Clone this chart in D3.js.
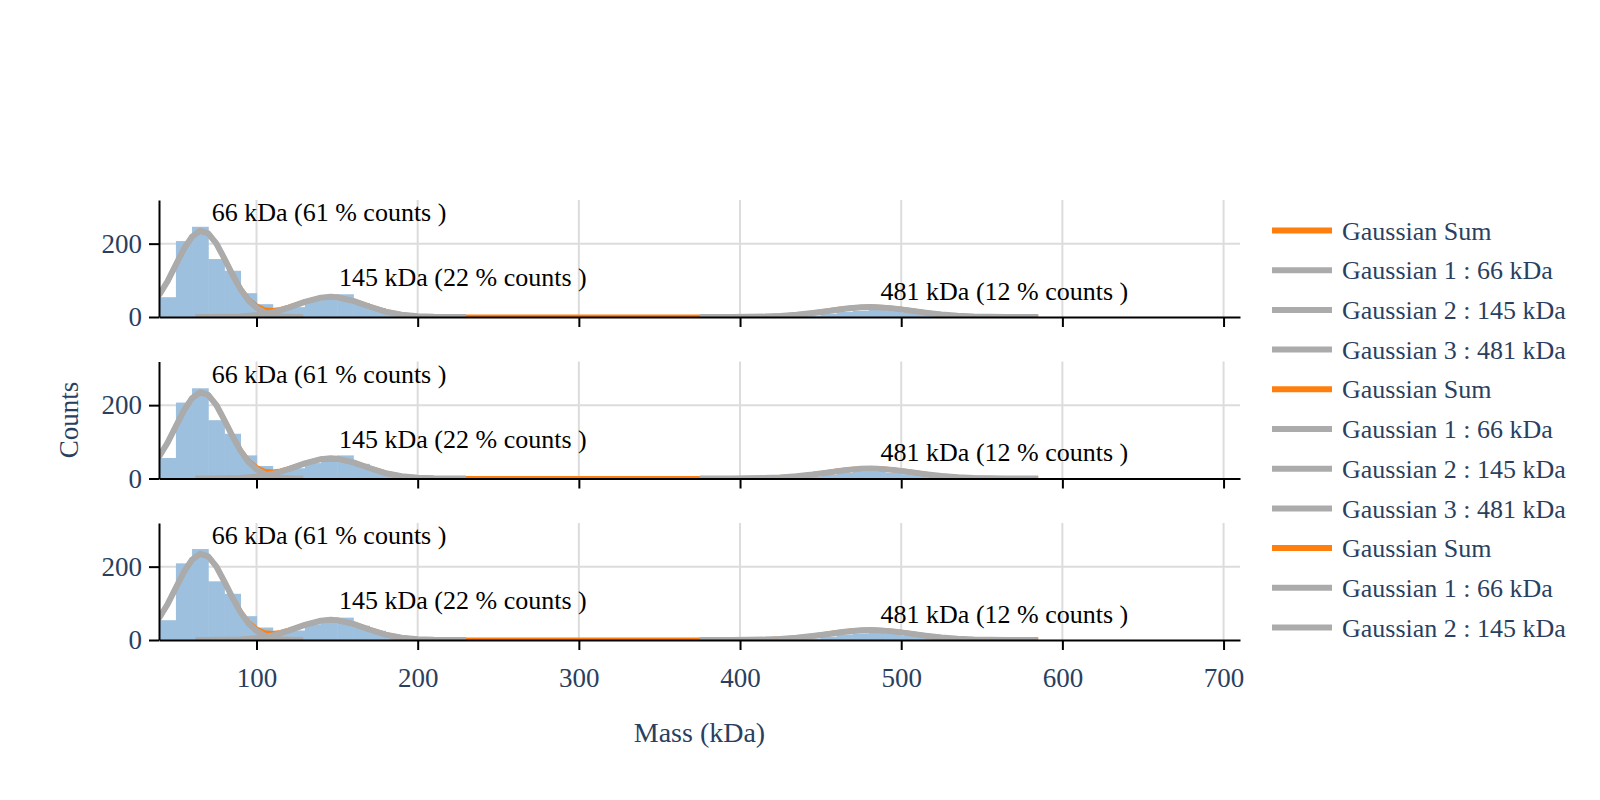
<!DOCTYPE html>
<html><head><meta charset="utf-8">
<script src="https://cdn.jsdelivr.net/npm/d3@7"></script>
<style>body{margin:0;background:#fff} svg{display:block}</style>
</head><body>
<svg id="chart" width="1600" height="800"></svg>
<script>
// ---------- DATA ----------
const xTicks = [100, 200, 300, 400, 500, 600, 700];
const yTicks = [0, 200];
const binWidth = 10;
const binLeft = [40,50,60,70,80,90,100,110,120,130,140,150,160,170,180,190,200,210,220,230,
  240,250,260,270,280,290,300,310,320,330,340,350,360,370,380,390,400,410,420,430,
  440,450,460,470,480,490,500,510,520,530,540,550,560,570,580,
  590,600,610,620,630,640,650,660,670,680];
const counts1 = [54,207,246,158,126,65,35,24,27,44,58,62,38,24,9,5,3,2,1,1,
  0,0,0,0,0,0,0,0,0,0,0,0,0,0,0,0,0,1,1,2,
  4,9,14,17,19,17,13,8,5,3,2,1,1,0,0,
  0,0,0,0,0,0,0,0,0,0];
const counts2 = [56,207,246,159,122,63,34,23,28,42,60,63,40,22,10,5,3,1,1,1,
  0,0,0,0,0,0,0,0,0,0,0,0,0,0,0,0,0,1,1,2,
  5,10,15,18,18,16,12,9,5,3,2,1,1,0,0,
  0,0,1,0,1,0,0,0,1,0];
const counts3 = [54,209,248,160,126,65,34,24,26,43,57,61,39,25,9,4,3,2,1,0,
  0,0,0,0,0,0,0,0,0,0,0,0,0,0,0,0,0,1,1,2,
  4,9,15,18,19,17,12,8,5,3,2,1,0,0,0,
  0,0,0,0,0,0,0,0,0,0];

const sumX = [35,40,45,50,55,60,65,70,75,80,85,90,95,100,105,110,115,120,
  130,140,150,160,170,180,190,200,210,220,230,240,250,260,270,280,290,300,310,320,330,340,350,360,370,380,
  390,400,410,420,430,440,450,460,470,480,490,500,510,520,530,540,550,560,570,580,585];
const sumY = [36,63,99,143,186,219,235,228,201,160,117,78,48,30,20,18,20.5,27,
  41,53,54,44,29,15,6,2,0.5,0.1,0,0,0,0,0,0,0,0,0,0,0,0,0,0,0,0,
  0.06,0.22,0.67,1.8,4.1,8.1,13.8,20.2,25,27,25.6,21,15,9.1,4.7,2.1,0.8,0.27,0.08,0,0];
const g1X = [35,40,45,50,55,60,65,70,75,80,85,90,95,100,105,110,115,120,125,129];
const g1Y = [36,63,99,143,186,219,235,228,201,160,116,76,45,25,12,5,2,1,0.3,0.1];
const g2X = [62,70,80,90,100,105,110,115,120,130,140,146,150,160,170,180,190,200,210,220,230];
const g2Y = [0,0.1,0.4,1.6,5.0,8.2,12.7,18.5,25.6,41.1,52.8,55,54,44,28.6,14.8,6.1,2.0,0.5,0.1,0];
const g3X = [375,385,395,405,415,425,435,445,455,465,475,481,485,495,505,515,525,535,545,555,565,575,585];
const g3Y = [0,0.03,0.12,0.39,1.1,2.8,5.9,10.7,16.5,22.5,26.5,27,26.8,23.5,18,11.9,6.7,3.2,1.35,0.5,0.15,0.04,0];

const labelText = ["66 kDa (61 % counts )", "145 kDa (22 % counts )", "481 kDa (12 % counts )"];
const labelX = [66, 145, 481];
const labelY = [286, 108, 72];

const legendNames = ["Gaussian Sum", "Gaussian 1 : 66 kDa", "Gaussian 2 : 145 kDa", "Gaussian 3 : 481 kDa"];
const panelCounts = [counts1, counts2, counts3];

// ---------- LAYOUT ----------
const FONT = '"Liberation Serif", "Times New Roman", serif';
const TXT = '#2a3f5f';
const left = 159, right = 1240;
const panelTop = [200, 361.5, 523], ph = 117;
const svg = d3.select('#chart');

const x = d3.scaleLinear().domain([39.5, 710.2]).range([left, right]);

const defs = svg.append('defs');

panelCounts.forEach((counts, i) => {
  const top = panelTop[i];
  const y = d3.scaleLinear().domain([0, 319]).range([top + ph, top]);
  const g = svg.append('g');

  defs.append('clipPath').attr('id', 'clip' + i)
    .append('rect').attr('x', left).attr('y', top).attr('width', right - left).attr('height', ph);

  // grid
  g.selectAll('.vg').data(xTicks).join('line')
    .attr('x1', d => x(d)).attr('x2', d => x(d)).attr('y1', top).attr('y2', top + ph)
    .attr('stroke', '#dcdcdc').attr('stroke-width', 2);
  g.selectAll('.hg').data(yTicks.filter(d => d > 0)).join('line')
    .attr('x1', left).attr('x2', right).attr('y1', d => y(d)).attr('y2', d => y(d))
    .attr('stroke', '#dcdcdc').attr('stroke-width', 2);

  const plot = g.append('g').attr('clip-path', `url(#clip${i})`);
  // histogram
  plot.selectAll('rect').data(binLeft.map((b, k) => ({b, c: counts[k]})).filter(d => d.c > 0)).join('rect')
    .attr('x', d => x(d.b)).attr('width', d => x(d.b + binWidth) - x(d.b) + 0.6)
    .attr('y', d => y(d.c)).attr('height', d => y(0) - y(d.c))
    .attr('fill', '#9ec0df');

  const line = d3.line().x(d => x(d[0])).y(d => y(d[1]));
  plot.append('path').attr('d', line(sumX.map((v, k) => [v, sumY[k]])))
    .attr('fill', 'none').attr('stroke', '#ff7f0e').attr('stroke-width', 5).attr('stroke-linejoin', 'round');
  [[g1X, g1Y], [g2X, g2Y], [g3X, g3Y]].forEach(([gx, gy]) => {
    plot.append('path').attr('d', line(gx.map((v, k) => [v, gy[k]])))
      .attr('fill', 'none').attr('stroke', '#ababab').attr('stroke-width', 6).attr('stroke-linejoin', 'round');
  });

  // axes
  const yAxis = g.append('g').attr('transform', `translate(${left},0)`)
    .call(d3.axisLeft(y).tickValues(yTicks).tickSize(10).tickSizeOuter(0).tickPadding(7));
  const xAxis = g.append('g').attr('transform', `translate(0,${top + ph})`)
    .call(d3.axisBottom(x).tickValues(xTicks).tickSize(10).tickSizeOuter(0).tickPadding(18)
      .tickFormat(i === 2 ? d3.format('d') : () => ''));
  [yAxis, xAxis].forEach(a => {
    a.select('.domain').attr('stroke', '#000').attr('stroke-width', 2);
    a.selectAll('.tick line').attr('stroke', '#000').attr('stroke-width', 2);
    a.selectAll('.tick text').attr('fill', TXT).style('font-family', FONT).style('font-size', '27px');
  });

  // annotations
  g.selectAll('.ann').data(labelText).join('text')
    .attr('x', (d, k) => x(labelX[k]) + 10).attr('y', (d, k) => y(labelY[k]))
    .attr('dy', '0.35em').attr('text-anchor', 'start')
    .attr('fill', '#000').style('font-family', FONT).style('font-size', '26px')
    .text(d => d);
});

// axis titles
svg.append('text').attr('x', (left + right) / 2).attr('y', 732).attr('dy', '0.35em')
  .attr('text-anchor', 'middle').attr('fill', TXT).style('font-family', FONT).style('font-size', '28px')
  .text('Mass (kDa)');
svg.append('text').attr('transform', 'translate(69,420) rotate(-90)').attr('dy', '0.35em')
  .attr('text-anchor', 'middle').attr('fill', TXT).style('font-family', FONT).style('font-size', '27px')
  .text('Counts');

// legend
defs.append('clipPath').attr('id', 'legclip').append('rect')
  .attr('x', 1250).attr('y', 200).attr('width', 350).attr('height', 448);
const legItems = [];
panelCounts.forEach(() => legendNames.forEach(n => legItems.push(n)));
const leg = svg.append('g').attr('clip-path', 'url(#legclip)');
const li = leg.selectAll('g').data(legItems).join('g')
  .attr('transform', (d, k) => `translate(0,${230.5 + k * 39.7})`);
li.append('line').attr('x1', 1272).attr('x2', 1332).attr('y1', 0).attr('y2', 0)
  .attr('stroke', d => d === 'Gaussian Sum' ? '#ff7f0e' : '#ababab').attr('stroke-width', 6);
li.append('text').attr('x', 1342).attr('y', 0).attr('dy', '0.35em')
  .attr('fill', TXT).style('font-family', FONT).style('font-size', '26px').text(d => d);
</script>
</body></html>
